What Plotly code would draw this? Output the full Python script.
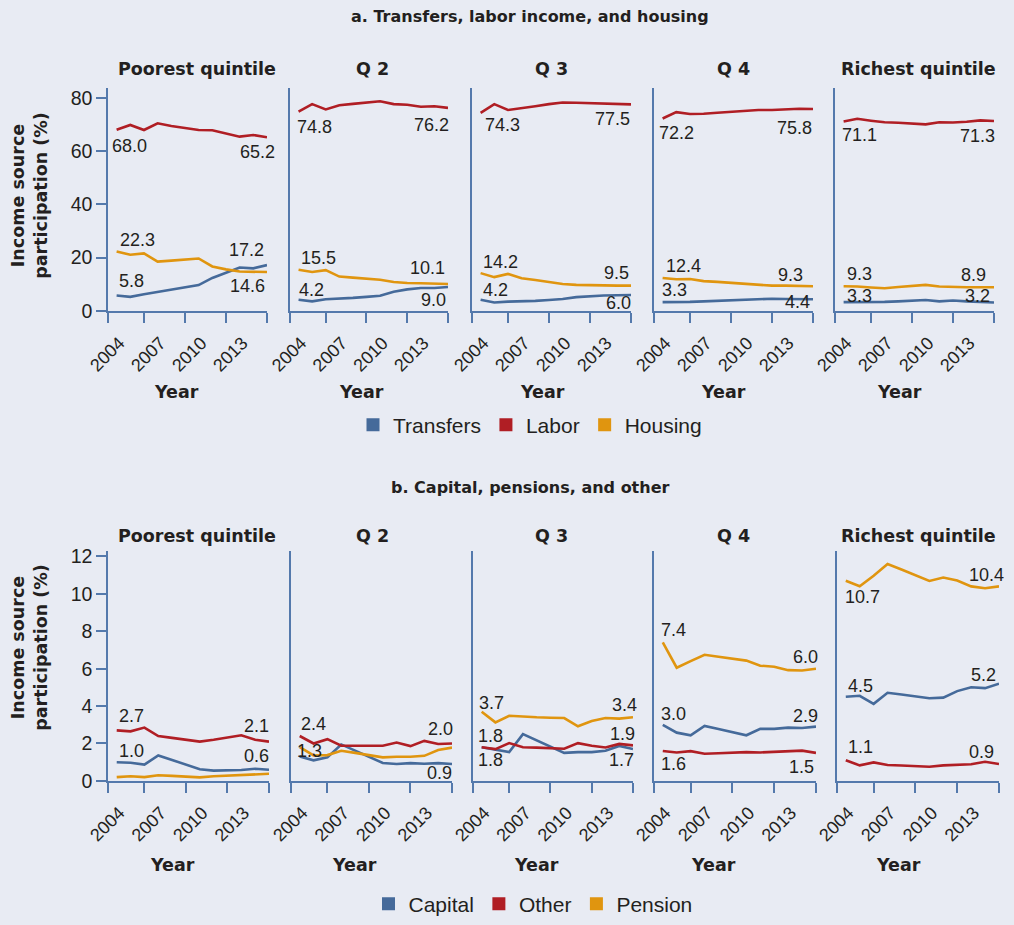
import plotly.graph_objects as go

years = list(range(2002, 2014))
quintiles = ["Poorest quintile", "Q 2", "Q 3", "Q 4", "Richest quintile"]

# ---- Panel a: Transfers, labor income, and housing (%) ----
transfers = [
    [5.8, 5.3, 6.3, 7.1, 7.9, 8.8, 9.7, 12.4, 14.3, 16.3, 16.0, 17.2],
    [4.2, 3.6, 4.4, 4.6, 4.9, 5.3, 5.7, 7.2, 8.1, 8.6, 8.6, 9.0],
    [4.2, 3.2, 3.5, 3.6, 3.8, 4.1, 4.5, 5.2, 5.6, 5.8, 5.9, 6.0],
    [3.3, 3.3, 3.4, 3.6, 3.8, 4.0, 4.2, 4.4, 4.6, 4.5, 4.4, 4.4],
    [3.3, 3.3, 3.3, 3.4, 3.6, 3.8, 4.1, 3.6, 3.9, 3.6, 3.4, 3.2],
]
labor = [
    [68.0, 69.8, 67.9, 70.4, 69.4, 68.7, 67.9, 67.8, 66.5, 65.4, 66.0, 65.2],
    [74.8, 77.6, 75.6, 77.2, 77.7, 78.2, 78.7, 77.6, 77.4, 76.6, 76.8, 76.2],
    [74.3, 77.6, 75.4, 76.0, 76.8, 77.6, 78.2, 78.1, 77.9, 77.8, 77.6, 77.5],
    [72.2, 74.6, 73.9, 74.0, 74.4, 74.8, 75.1, 75.4, 75.4, 75.6, 75.9, 75.8],
    [71.1, 72.1, 71.4, 70.8, 70.6, 70.3, 70.0, 70.8, 70.7, 71.0, 71.5, 71.3],
]
housing = [
    [22.3, 21.1, 21.6, 18.5, 18.9, 19.3, 19.7, 16.7, 15.6, 14.8, 14.6, 14.6],
    [15.5, 14.6, 15.3, 12.9, 12.5, 12.1, 11.7, 10.9, 10.5, 10.4, 10.3, 10.1],
    [14.2, 12.7, 13.9, 12.3, 11.6, 10.8, 10.1, 9.8, 9.6, 9.6, 9.5, 9.5],
    [12.4, 11.9, 12.0, 11.2, 10.9, 10.5, 10.1, 9.7, 9.5, 9.5, 9.3, 9.3],
    [9.3, 9.2, 8.8, 8.5, 9.0, 9.4, 9.8, 9.2, 9.0, 8.9, 8.9, 8.9],
]

# ---- Panel b: Capital, pensions, and other (%) ----
capital = [
    [1.0, 0.97, 0.87, 1.36, 1.12, 0.88, 0.62, 0.55, 0.57, 0.58, 0.65, 0.6],
    [1.3, 1.1, 1.26, 1.95, 1.62, 1.29, 0.96, 0.9, 0.95, 0.92, 0.95, 0.9],
    [1.8, 1.68, 1.54, 2.5, 2.17, 1.84, 1.5, 1.54, 1.54, 1.61, 1.87, 1.7],
    [3.0, 2.58, 2.44, 2.94, 2.78, 2.61, 2.44, 2.78, 2.78, 2.85, 2.83, 2.9],
    [4.5, 4.55, 4.12, 4.71, 4.62, 4.52, 4.42, 4.45, 4.8, 5.01, 4.96, 5.2],
]
other = [
    [2.7, 2.65, 2.85, 2.4, 2.3, 2.2, 2.1, 2.2, 2.32, 2.44, 2.2, 2.1],
    [2.4, 2.0, 2.23, 1.88, 1.88, 1.88, 1.88, 2.05, 1.86, 2.14, 1.97, 2.0],
    [1.8, 1.7, 2.02, 1.8, 1.78, 1.76, 1.72, 2.02, 1.88, 1.79, 1.98, 1.9],
    [1.6, 1.52, 1.59, 1.45, 1.48, 1.51, 1.54, 1.52, 1.56, 1.62, 1.62, 1.5],
    [1.1, 0.83, 0.99, 0.85, 0.82, 0.8, 0.76, 0.83, 0.86, 0.89, 1.02, 0.9],
]
pension = [
    [0.2, 0.25, 0.2, 0.3, 0.27, 0.23, 0.19, 0.25, 0.28, 0.33, 0.33, 0.38],
    [1.8, 1.36, 1.38, 1.61, 1.5, 1.38, 1.26, 1.29, 1.29, 1.34, 1.65, 1.78],
    [3.7, 3.13, 3.48, 3.42, 3.4, 3.38, 3.36, 2.92, 3.2, 3.36, 3.33, 3.4],
    [7.4, 6.05, 6.4, 6.74, 6.64, 6.54, 6.43, 6.16, 6.1, 5.92, 5.9, 6.0],
    [10.7, 10.41, 10.97, 11.6, 11.3, 11.0, 10.69, 10.87, 10.71, 10.4, 10.3, 10.4],
]

year_ticks = [2004, 2007, 2010, 2013]
ytick_a = [0, 20, 40, 60, 80]
ytick_b = [0, 2, 4, 6, 8, 10, 12]

# ---- styles ----
W, H = 1014, 925
BG = "#E8EBF3"
AX = "#5479AC"
TXT = "#231F20"
C_BLUE, C_RED, C_ORANGE = "#456A9A", "#B01E24", "#E0950F"
REG = "Liberation Sans, Arial, sans-serif"
BOLD = "DejaVu Sans, Verdana, sans-serif"
XR = [2001.37, 2013]
LABEL_OFFSET_YR = 1.8   # rotated year labels sit left of their tick

top_x = [(108, 267), (290, 448), (472, 631), (654, 813), (835, 994)]
bot_x = [(108, 269), (291, 452), (473, 633), (654, 816), (837, 999)]
top_y = (89, 313)
bot_y = (555, 786)

# label placement: (series, end, dx px, dy px)  dy>0 above
lab_a = [
    [("labor", 0, -7, -16), ("labor", 1, 10, -15), ("housing", 0, 1, 12), ("housing", 1, 0, -14), ("transfers", 0, 0, 15), ("transfers", 1, -1, 15)],
    [("labor", 0, -4, -15), ("labor", 1, 3, -17), ("housing", 0, 0, 12), ("housing", 1, -1, 16), ("transfers", 0, -2, 10), ("transfers", 1, 0, -13)],
    [("labor", 0, 2, -12), ("labor", 1, 1, -15), ("housing", 0, 0, 11), ("housing", 1, 0, 13), ("transfers", 0, 0, 10), ("transfers", 1, 2, -8)],
    [("labor", 0, -6, -14), ("labor", 1, 1, -19), ("housing", 0, 1, 12), ("housing", 1, -8, 11), ("transfers", 0, -3, 12), ("transfers", 1, -1, -3)],
    [("labor", 0, -4, -14), ("labor", 1, 3, -15), ("housing", 0, 1, 12), ("housing", 1, -6, 12), ("transfers", 0, 1, 6), ("transfers", 1, -2, 6)],
]
lab_b = [
    [("other", 0, 0, 14), ("other", 1, 2, 16), ("capital", 0, 0, 11), ("capital", 1, 2, 14)],
    [("other", 0, -1, 12), ("capital", 0, -5, 6), ("other", 1, 3, 14), ("capital", 1, 2, -9)],
    [("pension", 0, -5, 9), ("other", 0, -6, 11), ("capital", 0, -6, -13), ("pension", 1, 6, 12), ("other", 1, 4, 11), ("capital", 1, 3, -11)],
    [("pension", 0, -4, 12), ("pension", 1, 4, 12), ("capital", 0, -4, 11), ("capital", 1, 4, 11), ("other", 0, -4, -13), ("other", 1, 0, -14)],
    [("pension", 0, -3, -16), ("pension", 1, 7, 11), ("capital", 0, 0, 11), ("capital", 1, -1, 9), ("other", 0, 0, 13), ("other", 1, -3, 12)],
]

series_a = [("Transfers", transfers, C_BLUE), ("Labor", labor, C_RED), ("Housing", housing, C_ORANGE)]
series_b = [("Capital", capital, C_BLUE), ("Other", other, C_RED), ("Pension", pension, C_ORANGE)]
lookup = {"transfers": transfers, "labor": labor, "housing": housing,
          "capital": capital, "other": other, "pension": pension}

fig = go.Figure()
layout = dict(width=W, height=H, margin=dict(l=0, r=0, t=0, b=0, pad=0),
              template="none", autosize=False,
              paper_bgcolor=BG, plot_bgcolor=BG, showlegend=True)
annotations = []


def px2x(p):
    return p / W


def px2y(p):
    return 1 - p / H


def add_group(gi, series, xdoms, ydom, yr, yticks, labels, legend_name):
    for q in range(5):
        n = gi * 5 + q + 1
        m = n + 10  # overlay axis carrying the rotated year labels
        xa = "x" if n == 1 else f"x{n}"
        ya = "y" if n == 1 else f"y{n}"
        for name, data, col in series:
            fig.add_trace(go.Scatter(x=years, y=data[q], mode="lines", name=name,
                                     line=dict(color=col, width=2.6), showlegend=False,
                                     xaxis=xa, yaxis=ya, hoverinfo="skip"))
        # invisible carrier for the label axis (also serves as legend entry on q==0)
        if q == 0:
            for name, data, col in series:
                fig.add_trace(go.Scatter(x=[None], y=[None], mode="markers", name=name,
                                         marker=dict(symbol="square", size=13, color=col),
                                         legend=legend_name, showlegend=True,
                                         xaxis=f"x{m}", yaxis=ya))
        else:
            fig.add_trace(go.Scatter(x=[None], y=[None], mode="markers", showlegend=False,
                                     xaxis=f"x{m}", yaxis=ya, hoverinfo="skip"))
        kx = "xaxis" if n == 1 else f"xaxis{n}"
        ky = "yaxis" if n == 1 else f"yaxis{n}"
        dom = [px2x(xdoms[q][0]), px2x(xdoms[q][1])]
        layout[kx] = dict(domain=dom, anchor=ya,
                          range=XR, showgrid=False, zeroline=False, showline=True,
                          automargin=False, fixedrange=True,
                          linecolor=AX, linewidth=1.5, ticks="outside", ticklen=10,
                          tickcolor=AX, tickwidth=1.5,
                          tickvals=[XR[0]] + year_ticks, showticklabels=False)
        layout[f"xaxis{m}"] = dict(domain=dom, anchor=ya, overlaying=xa, side="bottom",
                                   range=XR, showgrid=False, zeroline=False, showline=False,
                                   automargin=False, fixedrange=True, ticks="",
                                   tickvals=[y - LABEL_OFFSET_YR for y in year_ticks],
                                   ticktext=[str(y) for y in year_ticks],
                                   tickangle=-45, ticklabelstandoff=17,
                                   tickfont=dict(family=REG, size=18, color=TXT))
        layout[ky] = dict(domain=[px2y(ydom[1]), px2y(ydom[0])], anchor=xa,
                          range=yr, showgrid=False, zeroline=False, showline=True,
                          automargin=False, fixedrange=True,
                          linecolor=AX, linewidth=1.5,
                          ticks="outside" if q == 0 else "", ticklen=10,
                          tickcolor=AX, tickwidth=1.5,
                          tickvals=yticks, showticklabels=(q == 0),
                          tickfont=dict(family=REG, size=19.5, color=TXT))
        for (sname, end, dx, dy) in labels[q]:
            vals = lookup[sname][q]
            i = 0 if end == 0 else len(years) - 1
            annotations.append(dict(x=years[i], y=vals[i], xref=xa, yref=ya,
                                    text=f"{vals[i]:.1f}", showarrow=False,
                                    xanchor="left" if end == 0 else "right",
                                    yanchor="middle", xshift=dx, yshift=dy,
                                    font=dict(family=REG, size=18, color=TXT)))


add_group(0, series_a, top_x, top_y, [0, 83.5], ytick_a, lab_a, "legend")
add_group(1, series_b, bot_x, bot_y, [0, 12.27], ytick_b, lab_b, "legend2")

# panel titles
tcx = [197, 372, 551, 733, 918]
for q, t in enumerate(quintiles):
    for yy in (69, 539):
        annotations.append(dict(x=px2x(tcx[q]), y=px2y(yy), xref="paper", yref="paper",
                                text=f"<b>{t}</b>", showarrow=False, xanchor="center",
                                yanchor="middle",
                                font=dict(family=BOLD, size=17.5, color=TXT)))
# Year labels
ycx_top = [176, 361, 542, 723, 899]
ycx_bot = [172, 354, 536, 713, 898]
for q in range(5):
    for cx, yy in ((ycx_top[q], 395), (ycx_bot[q], 871)):
        annotations.append(dict(x=px2x(cx), y=px2y(yy), xref="paper", yref="paper",
                                text="<b>Year</b>", showarrow=False, xanchor="center",
                                yanchor="middle",
                                font=dict(family=BOLD, size=17.5, color=TXT)))
# section titles
for txt, yy in (("a. Transfers, labor income, and housing", 17),
                ("b. Capital, pensions, and other", 491)):
    annotations.append(dict(x=px2x(530), y=px2y(yy), xref="paper", yref="paper",
                            text=f"<b>{txt}</b>", showarrow=False, xanchor="center",
                            yanchor="middle",
                            font=dict(family=BOLD, size=16, color=TXT)))
# y axis titles
for yy in (197, 652):
    annotations.append(dict(x=px2x(30), y=px2y(yy), xref="paper", yref="paper",
                            text="<b>Income source<br>participation (%)</b>",
                            showarrow=False, textangle=-90, xanchor="center",
                            yanchor="middle",
                            font=dict(family=BOLD, size=17.5, color=TXT)))

layout["annotations"] = annotations
layout["legend"] = dict(orientation="h", x=px2x(530), y=px2y(428), xanchor="center",
                        yanchor="middle", bgcolor="rgba(0,0,0,0)",
                        font=dict(family=REG, size=21, color=TXT), itemwidth=30)
layout["legend2"] = dict(orientation="h", x=px2x(533), y=px2y(910), xanchor="center",
                         yanchor="middle", bgcolor="rgba(0,0,0,0)",
                         font=dict(family=REG, size=21, color=TXT), itemwidth=30)
fig.update_layout(**layout)
fig.write_html("out.html", config={"displayModeBar": False},
               post_script="document.body.style.margin='0';document.body.style.background='%s';" % BG)
